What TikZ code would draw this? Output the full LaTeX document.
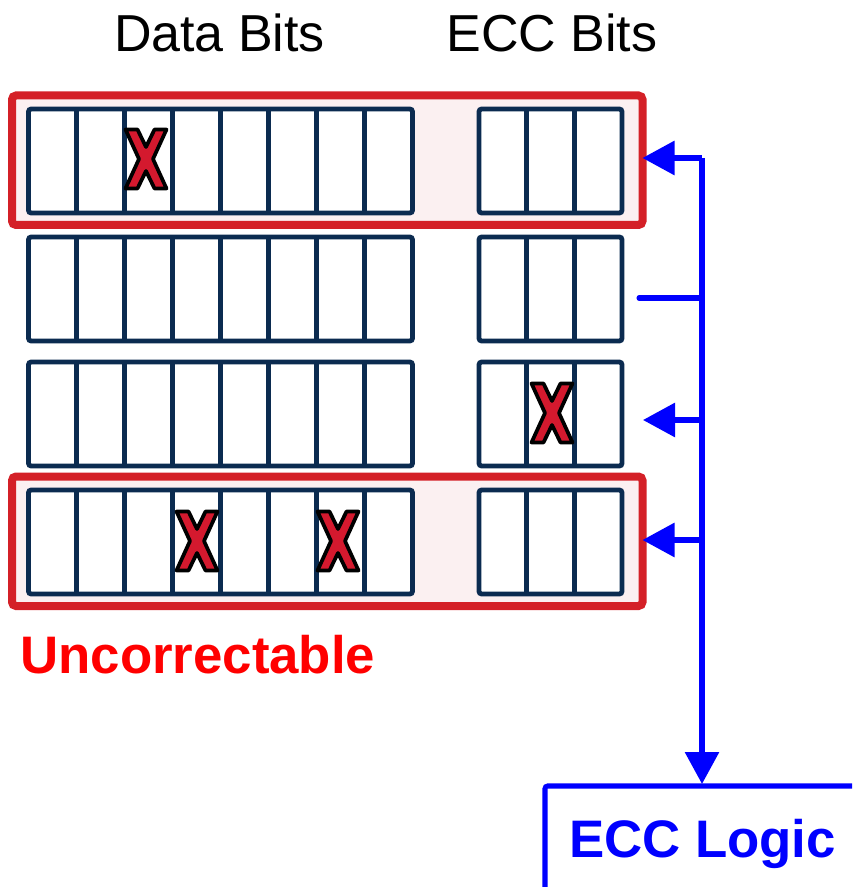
\documentclass[tikz,border=0pt]{standalone}
\usepackage{fontspec}
\setmainfont{Liberation Sans}
\usetikzlibrary{arrows.meta}
\definecolor{navy}{HTML}{0B2B50}
\definecolor{boxred}{HTML}{D42027}
\definecolor{palepink}{HTML}{FBF0F1}
\definecolor{xred}{HTML}{D4192E}
\begin{document}
\begin{tikzpicture}[x=0.75pt,y=-0.75pt,
  redbox/.style={draw=boxred, line width=6pt, fill=palepink, rounded corners=3pt,
    minimum width=630.5*0.75pt, minimum height=129.5*0.75pt, inner sep=0pt, outer sep=0pt},
  cellbox/.style={draw=navy, line width=3.6pt, fill=white, rounded corners=2pt,
    minimum height=104*0.75pt, inner sep=0pt},
  cellline/.style={draw=navy, line width=3.6pt},
  bus/.style={draw=blue, line width=3.8pt},
  tip/.style={-{Triangle[length=24pt,width=25pt]}},
  lbl/.style={font=\fontsize{39}{42}\selectfont, inner sep=0pt, anchor=base},
  boldlbl/.style={font=\fontsize{39.6}{42}\selectfont\bfseries, inner sep=0pt},
  errx/.pic={\filldraw[fill=xred, draw=black, line width=2.8pt, line join=round]
    (-20.5,-29.5) -- (-8.5,-29.5) -- (0,-12) -- (8.5,-29.5) -- (20.5,-29.5) -- (7,0) -- (20.5,29.5)
    -- (8.5,29.5) -- (0,12) -- (-8.5,29.5) -- (-20.5,29.5) -- (-7,0) -- cycle;}
]
\clip (0,0) rectangle (852,887);

% titles
\node[lbl] (tdata) at (219.5,52) {Data Bits};
\node[lbl] (tecc) at (552,52) {ECC Bits};

% uncorrectable boxes
\node[redbox] (box1) at (327.25,160.25) {};
\node[redbox] (box4) at (327.25,541.25) {};

% rows
\foreach \r/\yy in {1/161,2/289,3/414,4/542}{
  \node[cellbox, minimum width=384*0.75pt] (d\r) at (220.5,\yy) {};
  \foreach \i in {1,...,7}
    \draw[cellline] (28.5+48*\i,\yy-52) -- (28.5+48*\i,\yy+52);
  \node[cellbox, minimum width=143*0.75pt] (e\r) at (550.5,\yy) {};
  \draw[cellline] (526.7,\yy-52) -- (526.7,\yy+52);
  \draw[cellline] (574.3,\yy-52) -- (574.3,\yy+52);
}

% errors
\pic at (146,159) {errx};
\pic at (197,541) {errx};
\pic at (338,541) {errx};
\pic at (552,413) {errx};

\node[boldlbl, anchor=base west, text=red] (unc) at (20,673) {Uncorrectable};

% ECC logic
\draw[bus, rounded corners=2pt] (545,900) -- (545,786) -- (900,786);
\coordinate (ecctop) at (702,784);
\node[boldlbl, anchor=base, text=blue] (ecclbl) at (702.5,857) {ECC Logic};

% bus
\coordinate (b1) at (702,158);
\coordinate (b2) at (702,298);
\coordinate (b3) at (702,420);
\coordinate (b4) at (702,540);
\coordinate (t2) at (639,298);
\coordinate (t3) at (643,420);
\draw[bus, tip] (b1) -- (ecctop);
\draw[bus, tip] (b1) -- (box1.east |- b1);
\draw[bus, line cap=round] (b2) -- (t2);
\draw[bus, tip] (b3) -- (t3);
\draw[bus, tip] (b4) -- (box4.east |- b4);
\end{tikzpicture}
\end{document}
